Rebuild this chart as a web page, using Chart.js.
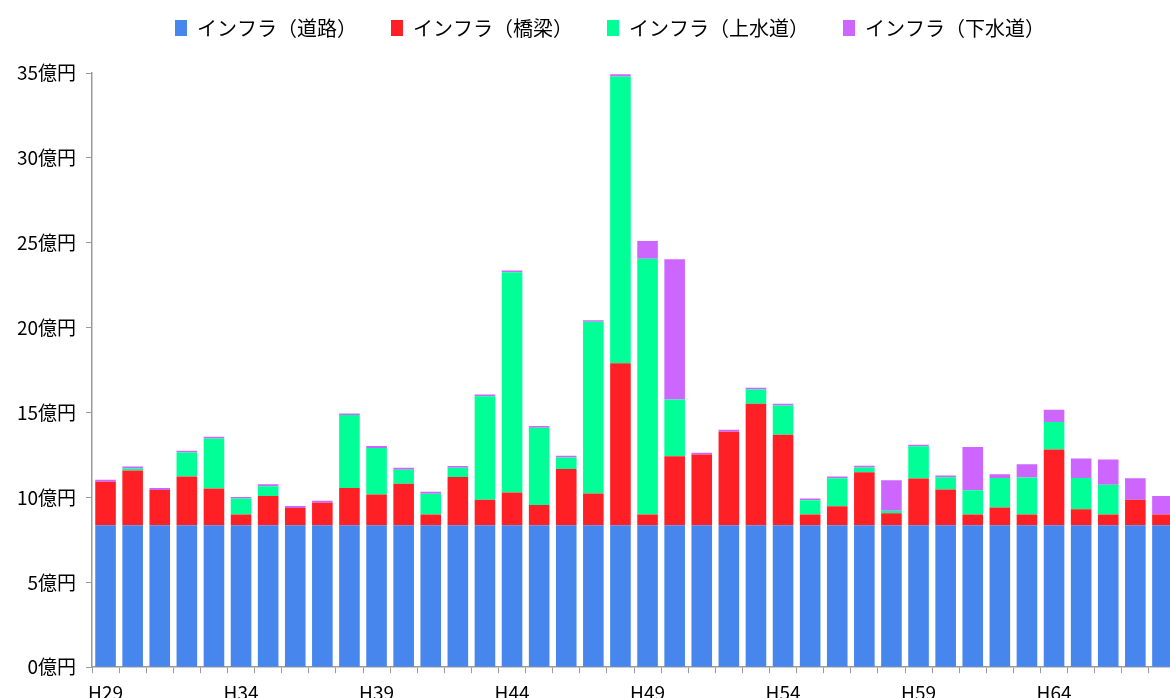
<!DOCTYPE html>
<html>
<head>
<meta charset="utf-8">
<script src="https://cdn.jsdelivr.net/npm/chart.js@4"></script>
<style>
  html, body { margin: 0; padding: 0; overflow: hidden; background: #fff; }
  #wrap { width: 1176px; height: 712px; }
</style>
</head>
<body>
<div id="wrap"><canvas id="infraChart" width="1176" height="712"></canvas></div>
<script>
// Categories (fiscal years)
const years = ['H29', 'H30', 'H31', 'H32', 'H33', 'H34', 'H35', 'H36', 'H37', 'H38',
               'H39', 'H40', 'H41', 'H42', 'H43', 'H44', 'H45', 'H46', 'H47', 'H48',
               'H49', 'H50', 'H51', 'H52', 'H53', 'H54', 'H55', 'H56', 'H57', 'H58',
               'H59', 'H60', 'H61', 'H62', 'H63', 'H64', 'H65', 'H66', 'H67', 'H68'];

// 億円
const roads = [8.36, 8.36, 8.36, 8.36, 8.36, 8.36, 8.36, 8.36, 8.36, 8.36,
               8.36, 8.36, 8.36, 8.36, 8.36, 8.36, 8.36, 8.36, 8.36, 8.36,
               8.36, 8.36, 8.36, 8.36, 8.36, 8.36, 8.36, 8.36, 8.36, 8.36,
               8.36, 8.36, 8.36, 8.36, 8.36, 8.36, 8.36, 8.36, 8.36, 8.36];
const bridges = [2.56, 3.22, 2.08, 2.87, 2.16, 0.63, 1.73, 1.02, 1.32, 2.20,
                 1.81, 2.44, 0.63, 2.84, 1.50, 1.93, 1.20, 3.31, 1.87, 9.54,
                 0.63, 4.07, 4.17, 5.51, 7.16, 5.33, 0.63, 1.12, 3.13, 0.71,
                 2.75, 2.10, 0.63, 1.04, 0.63, 4.47, 0.95, 0.63, 1.51, 0.63];
const water = [0, 0.12, 0, 1.42, 2.95, 0.94, 0.57, 0, 0, 4.29,
               2.74, 0.83, 1.22, 0.55, 6.10, 12.98, 4.54, 0.68, 10.12, 16.90,
               15.07, 3.34, 0, 0, 0.84, 1.73, 0.85, 1.65, 0.27, 0.15,
               1.91, 0.73, 1.44, 1.75, 2.18, 1.62, 1.83, 1.75, 0, 0];
const sewer = [0.12, 0.12, 0.12, 0.10, 0.10, 0.10, 0.12, 0.12, 0.12, 0.09,
               0.12, 0.12, 0.12, 0.10, 0.10, 0.10, 0.10, 0.10, 0.09, 0.12,
               1.04, 8.26, 0.10, 0.12, 0.10, 0.10, 0.09, 0.10, 0.10, 1.79,
               0.09, 0.10, 2.54, 0.22, 0.79, 0.71, 1.16, 1.49, 1.26, 1.10];

const font = "'Noto Sans CJK JP', 'Noto Sans', sans-serif";
const axisGray = '#9a9a9a';

// legend block is taller than its padding alone; nudge it up and to the right
const legendTweak = {
    id: 'legendTweak',
    beforeInit(chart) {
        const origFit = chart.legend.fit;
        chart.legend.fit = function () {
            origFit.call(this);
            this.height = 73;
        };
    },
    afterLayout(chart) {
        const lg = chart.legend;
        lg.top -= 16;
        lg.bottom -= 16;
        lg.left += 22;
        lg.right += 22;
    }
};

const bar = (label, data, color) => ({
    label: label,
    data: data,
    backgroundColor: color,
    borderWidth: 0,
    barPercentage: 0.76,
    categoryPercentage: 1.0
});

new Chart(document.getElementById('infraChart').getContext('2d'), {
    type: 'bar',
    data: {
        labels: years,
        datasets: [
            bar('インフラ（道路）', roads, '#4786ec'),
            bar('インフラ（橋梁）', bridges, '#ff2025'),
            bar('インフラ（上水道）', water, '#00ff96'),
            bar('インフラ（下水道）', sewer, '#cc66ff')
        ]
    },
    options: {
        responsive: false,
        animation: false,
        layout: { padding: 0 },
        plugins: {
            legend: {
                position: 'top',
                labels: {
                    boxWidth: 12,
                    boxHeight: 16,
                    padding: 34,
                    color: '#000',
                    font: { family: font, size: 20 }
                }
            },
            tooltip: { enabled: false }
        },
        scales: {
            x: {
                stacked: true,
                grid: {
                    offset: true,
                    drawOnChartArea: false,
                    drawTicks: true,
                    tickLength: 6,
                    color: axisGray
                },
                border: { color: axisGray, width: 1.5 },
                ticks: {
                    autoSkip: false,
                    maxRotation: 0,
                    padding: 8,
                    color: '#000',
                    font: { family: font, size: 19 },
                    callback: function (value, index) {
                        return index % 5 === 0 ? this.getLabelForValue(value) : '';
                    }
                }
            },
            y: {
                stacked: true,
                min: 0,
                max: 35,
                afterFit(scale) { scale.width = 92; },
                grid: {
                    drawOnChartArea: false,
                    drawTicks: true,
                    tickLength: 6,
                    color: axisGray
                },
                border: { color: axisGray, width: 1.5 },
                ticks: {
                    stepSize: 5,
                    padding: 10,
                    color: '#000',
                    font: { family: font, size: 19 },
                    callback: (v) => v + '億円'
                }
            }
        }
    },
    plugins: [legendTweak]
});
</script>
</body>
</html>
